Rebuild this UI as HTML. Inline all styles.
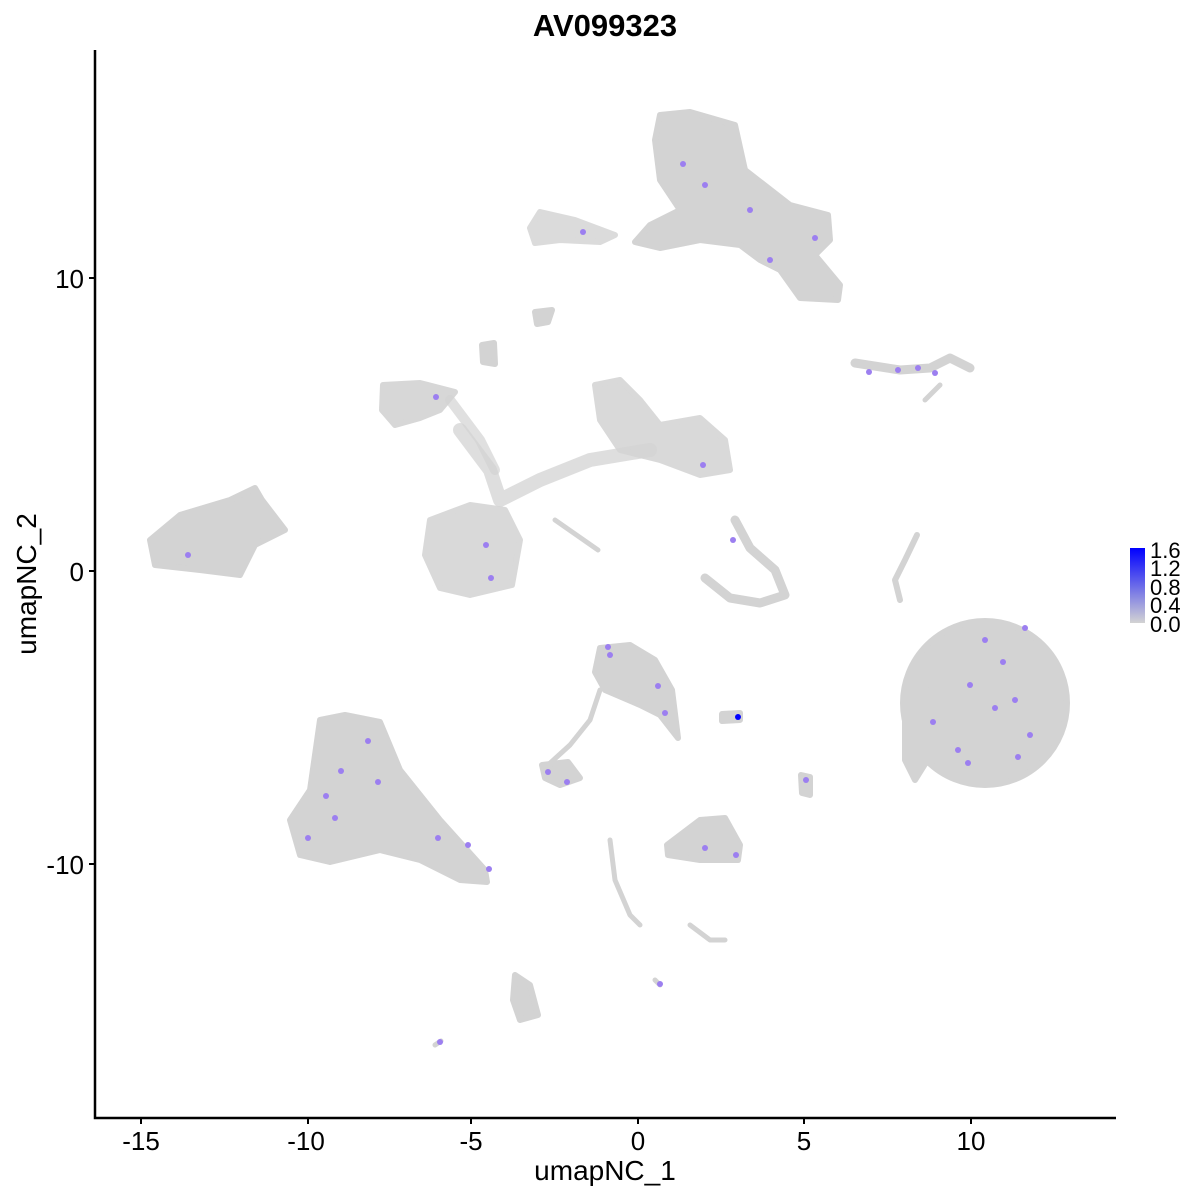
<!DOCTYPE html>
<html><head><meta charset="utf-8"><style>
html,body{margin:0;padding:0;background:#fff}
svg{display:block}
text{font-family:"Liberation Sans",sans-serif}
</style></head><body>
<svg width="1200" height="1200" viewBox="0 0 1200 1200" xmlns="http://www.w3.org/2000/svg">
<defs><linearGradient id="lg" x1="0" y1="1" x2="0" y2="0"><stop offset="0" stop-color="#d3d3d3"/><stop offset="1" stop-color="#0000ff"/></linearGradient></defs>
<g fill="#d3d3d3" stroke="#d3d3d3" stroke-linejoin="round" stroke-linecap="round" stroke-width="6">
<polygon points="660,115 690,112 735,125 745,170 790,205 828,215 830,240 815,255 840,285 838,300 800,298 780,270 760,260 740,245 700,240 660,248 635,242 650,225 680,210 660,180 655,140"/>
<polygon points="540,212 575,220 615,235 600,242 560,240 535,243 530,228" opacity="0.8"/>
<polygon points="535,312 552,310 548,322 537,324"/>
<polygon points="482,345 494,343 495,364 483,362"/>
<polygon points="150,540 180,515 230,500 255,488 262,500 285,530 255,545 240,575 200,570 155,565"/>
<polygon points="383,385 420,383 455,392 440,410 420,418 395,425 382,410" opacity="0.9"/>
<polygon points="430,520 470,505 505,510 520,540 512,585 470,595 440,588 425,555" opacity="0.85"/>
<polygon points="595,385 620,380 640,400 660,425 700,418 725,440 730,470 700,475 660,460 620,450 600,420" opacity="0.85"/>
<polyline points="460,430 490,470 500,500 540,480 590,460 650,450" fill="none" stroke-width="14" opacity="0.75"/>
<polyline points="450,400 480,440 495,470" fill="none" stroke-width="10" opacity="0.7"/>
<polyline points="555,520 598,550" fill="none" stroke-width="5"/>
<ellipse cx="985" cy="703" rx="82" ry="82"/>
<polygon points="905,700 930,690 940,740 915,780 905,760"/>
<polygon points="320,720 345,715 380,722 400,770 440,820 485,870 487,882 460,880 420,860 380,850 330,862 300,855 290,820 310,790"/>
<polygon points="600,648 630,645 655,660 672,690 678,738 660,715 640,705 605,690 595,672"/>
<polyline points="600,690 590,720 570,745 548,765" fill="none" stroke-width="5"/>
<polygon points="542,765 568,762 580,778 560,785 545,778"/>
<polygon points="722,714 740,713 740,720 722,721"/>
<polygon points="801,775 810,777 810,795 802,793"/>
<polygon points="667,845 700,820 725,818 740,845 738,860 700,860 668,855"/>
<polyline points="855,363 900,370 930,368 950,358 970,368" fill="none" stroke-width="9"/>
<polyline points="940,385 925,400" fill="none" stroke-width="5"/>
<polyline points="917,535 905,560 895,580 900,600" fill="none" stroke-width="6"/>
<polyline points="705,578 730,598 760,603 785,595 775,570 750,548 735,520" fill="none" stroke-width="9"/>
<polyline points="610,840 615,880 630,915 640,925" fill="none" stroke-width="5"/>
<polyline points="690,925 710,940 725,940" fill="none" stroke-width="5"/>
<polygon points="515,975 530,985 538,1015 520,1020 513,1000"/>
<polyline points="655,980 660,985" fill="none" stroke-width="5"/>
<polyline points="435,1045 441,1041" fill="none" stroke-width="5"/>
</g>
<g fill="#9c7ff0">
<circle cx="683" cy="164" r="3"/><circle cx="705" cy="185" r="3"/><circle cx="750" cy="210" r="3"/><circle cx="815" cy="238" r="3"/><circle cx="770" cy="260" r="3"/><circle cx="583" cy="232" r="3"/>
<circle cx="436" cy="397" r="3"/><circle cx="486" cy="545" r="3"/><circle cx="491" cy="578" r="3"/><circle cx="703" cy="465" r="3"/><circle cx="733" cy="540" r="3"/>
<circle cx="188" cy="555" r="3"/><circle cx="869" cy="372" r="3"/><circle cx="898" cy="370" r="3"/><circle cx="918" cy="368" r="3"/><circle cx="935" cy="373" r="3"/>
<circle cx="608" cy="647" r="3"/><circle cx="610" cy="655" r="3"/><circle cx="658" cy="686" r="3"/><circle cx="665" cy="713" r="3"/><circle cx="548" cy="772" r="3"/><circle cx="567" cy="782" r="3"/>
<circle cx="985" cy="640" r="3"/><circle cx="1025" cy="628" r="3"/><circle cx="1003" cy="662" r="3"/><circle cx="970" cy="685" r="3"/><circle cx="1015" cy="700" r="3"/><circle cx="958" cy="750" r="3"/><circle cx="1030" cy="735" r="3"/><circle cx="1018" cy="757" r="3"/><circle cx="968" cy="763" r="3"/><circle cx="933" cy="722" r="3"/><circle cx="995" cy="708" r="3"/>
<circle cx="368" cy="741" r="3"/><circle cx="341" cy="771" r="3"/><circle cx="326" cy="796" r="3"/><circle cx="335" cy="818" r="3"/><circle cx="378" cy="782" r="3"/><circle cx="308" cy="838" r="3"/><circle cx="438" cy="838" r="3"/><circle cx="468" cy="845" r="3"/><circle cx="489" cy="869" r="3"/>
<circle cx="806" cy="780" r="3"/><circle cx="705" cy="848" r="3"/><circle cx="736" cy="855" r="3"/><circle cx="660" cy="984" r="3"/><circle cx="440" cy="1042" r="3"/>
<circle cx="738" cy="717" r="3" fill="#0000ff"/>
</g>
<path d="M95,50 V1118 H1116" fill="none" stroke="#000" stroke-width="2.5"/>
<g stroke="#000" stroke-width="2">
<path d="M141,1118v6M308,1118v6M471,1118v6M638,1118v6M804,1118v6M971,1118v6M95,278h-6M95,571h-6M95,864h-6"/>
</g>
<g font-size="26" fill="#000" text-anchor="middle">
<text x="141" y="1150">-15</text><text x="306" y="1150">-10</text><text x="471" y="1150">-5</text><text x="638" y="1150">0</text><text x="804" y="1150">5</text><text x="971" y="1150">10</text>
<text x="605" y="1180" font-size="28">umapNC_1</text>
</g>
<g font-size="26" text-anchor="end"><text x="84" y="288">10</text><text x="84" y="581">0</text><text x="84" y="874">-10</text></g>
<text transform="translate(36,584) rotate(-90)" text-anchor="middle" font-size="28">umapNC_2</text>
<text x="605" y="36" text-anchor="middle" font-size="31" font-weight="bold">AV099323</text>
<rect x="1130" y="548" width="15" height="75" fill="url(#lg)"/>
<g font-size="22"><text x="1150" y="558">1.6</text><text x="1150" y="576">1.2</text><text x="1150" y="595">0.8</text><text x="1150" y="613">0.4</text><text x="1150" y="632">0.0</text></g>
</svg>
</body></html>
